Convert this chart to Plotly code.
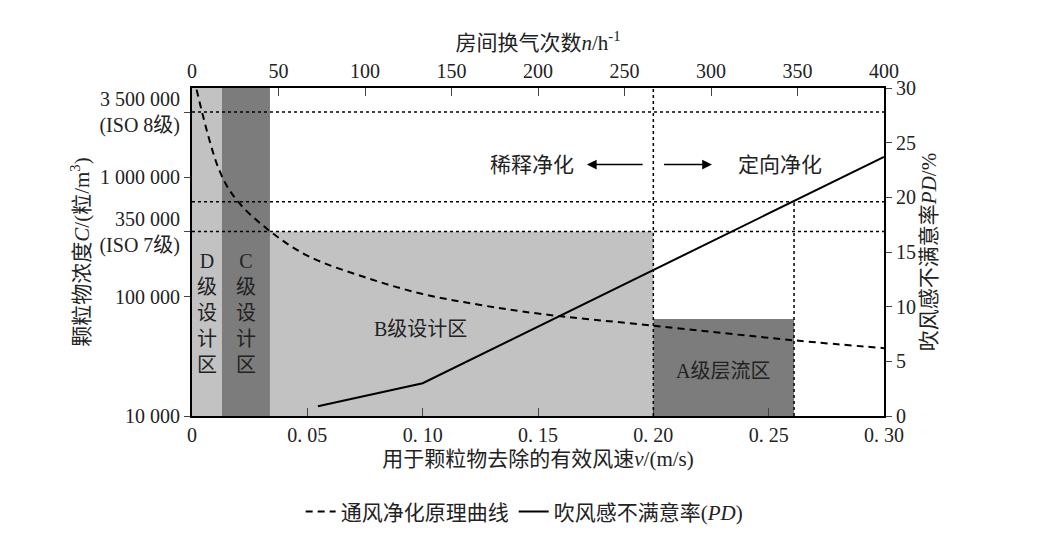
import plotly.graph_objects as go

# dashed curve: particle concentration vs effective velocity
conc_v = [0.002, 0.012, 0.0195, 0.033, 0.05, 0.075, 0.1, 0.125, 0.15, 0.2, 0.261, 0.3]
conc_c = [5400000, 1120000, 638000, 363000, 220000, 145000, 105000, 85000, 72000, 57000, 43000, 37000]

# solid line: draught dissatisfaction PD (%)
pd_v = [0.0546, 0.10, 0.30]
pd_val = [0.9, 3.0, 23.7]

conc_ticks = [10000, 100000, 350000, 1000000, 3500000]
conc_labels = ["10 000", "100 000", "350 000<br>(ISO 7级)", "1 000 000", "3 500 000<br>(ISO 8级)"]
v_ticks = [0, 0.05, 0.10, 0.15, 0.20, 0.25, 0.30]
v_labels = ["0", "0. 05", "0. 10", "0. 15", "0. 20", "0. 25", "0. 30"]
n_ticks = [0, 50, 100, 150, 200, 250, 300, 350, 400]

FONT = "Liberation Serif, Noto Sans CJK SC"
light = "#c2c2c2"
dark = "#7c7c7c"

fig = go.Figure()
fig.add_trace(go.Scatter(x=conc_v, y=conc_c, mode="lines", line=dict(color="black", dash="7px,5px", width=2,
                         shape="spline", smoothing=1.0), name="通风净化原理曲线"))
fig.add_trace(go.Scatter(x=pd_v, y=pd_val, mode="lines", line=dict(color="black", width=2),
                         name="吹风感不满意率(<i>PD</i>)", yaxis="y2"))
# invisible trace to activate top axis
fig.add_trace(go.Scatter(x=[0, 400], y=[None, None], xaxis="x2", showlegend=False, hoverinfo="skip"))

# zones
fig.add_shape(type="rect", xref="x", yref="paper", x0=0, x1=0.013, y0=0, y1=1, fillcolor=light, line_width=0, layer="below")
fig.add_shape(type="rect", xref="x", yref="paper", x0=0.013, x1=0.0338, y0=0, y1=1, fillcolor=dark, line_width=0, layer="below")
fig.add_shape(type="rect", xref="x", yref="y", x0=0.0338, x1=0.2, y0=10000, y1=350000, fillcolor=light, line_width=0, layer="below")
fig.add_shape(type="rect", xref="x", yref="y", x0=0.2, x1=0.261, y0=10000, y1=65000, fillcolor=dark, line_width=0, layer="below")

# dotted guides
dot = dict(color="black", width=1.5, dash="dot")
fig.add_shape(type="line", xref="paper", yref="y", x0=0, x1=1, y0=3500000, y1=3500000, line=dot)
fig.add_shape(type="line", xref="paper", yref="y", x0=0, x1=1, y0=350000, y1=350000, line=dot)
fig.add_shape(type="line", xref="paper", yref="y2", x0=0, x1=1, y0=19.6, y1=19.6, line=dot)
fig.add_shape(type="line", xref="x", yref="paper", x0=0.2, x1=0.2, y0=0, y1=1, line=dot)
fig.add_shape(type="line", xref="x", yref="y2", x0=0.261, x1=0.261, y0=0, y1=19.6, line=dot)

tf = dict(family=FONT, size=21, color="#222")
fig.add_annotation(x=0.1475, y=23.0, xref="x", yref="y2", text="稀释净化", showarrow=False, font=tf)
fig.add_annotation(x=0.255, y=23.0, xref="x", yref="y2", text="定向净化", showarrow=False, font=tf)
fig.add_annotation(x=0.1712, y=23.0, ax=0.196, ay=23.0, xref="x", yref="y2", axref="x", ayref="y2",
                   text="", showarrow=True, arrowhead=2, arrowsize=1.3, arrowwidth=1.5, arrowcolor="black")
fig.add_annotation(x=0.2254, y=23.0, ax=0.204, ay=23.0, xref="x", yref="y2", axref="x", ayref="y2",
                   text="", showarrow=True, arrowhead=2, arrowsize=1.3, arrowwidth=1.5, arrowcolor="black")
zf = dict(family=FONT, size=20, color="#222")
fig.add_annotation(x=0.0065, y=9.4, xref="x", yref="y2", text="D<br>级<br>设<br>计<br>区", showarrow=False, font=zf)
fig.add_annotation(x=0.0235, y=9.4, xref="x", yref="y2", text="C<br>级<br>设<br>计<br>区", showarrow=False, font=zf)
fig.add_annotation(x=0.099, y=8.0, xref="x", yref="y2", text="B级设计区", showarrow=False, font=zf)
fig.add_annotation(x=0.23, y=4.1, xref="x", yref="y2", text="A级层流区", showarrow=False, font=zf)

axfont = dict(family=FONT, size=20, color="#222")
common = dict(showline=True, linecolor="black", linewidth=2, showgrid=False, zeroline=False, automargin=False)
fig.update_layout(
    width=1043, height=537, margin=dict(l=184, r=167, t=80, b=122),
    plot_bgcolor="white", paper_bgcolor="white", font=axfont,
    xaxis=dict(range=[0, 0.3], tickvals=v_ticks, ticktext=v_labels, ticks="inside", ticklen=8, **common,
               title=dict(text="用于颗粒物去除的有效风速<i>v</i>/(m/s)", font=dict(family=FONT, size=21), standoff=6)),
    xaxis2=dict(range=[0, 400], tickvals=n_ticks, overlaying="x", side="top", ticks="inside", ticklen=8, **common,
                title=dict(text="房间换气次数<i>n</i>/h<sup>-1</sup>", font=dict(family=FONT, size=21), standoff=4)),
    yaxis=dict(type="log", range=[4, 6.746], tickvals=conc_ticks, ticktext=conc_labels, ticks="outside", ticklen=6, **common,
               title=dict(text="颗粒物浓度<i>C</i>/(粒/m<sup>3</sup>)", font=dict(family=FONT, size=21), standoff=4)),
    yaxis2=dict(range=[0, 30], dtick=5, overlaying="y", side="right", ticks="outside", ticklen=6, **common,
                title=dict(text="吹风感不满意率<i>PD</i>/%", font=dict(family=FONT, size=21), standoff=6)),
    legend=dict(orientation="h", x=0.48, xanchor="center", y=-0.23, yanchor="top", font=dict(family=FONT, size=21)),
)
fig.write_html("out.html")
